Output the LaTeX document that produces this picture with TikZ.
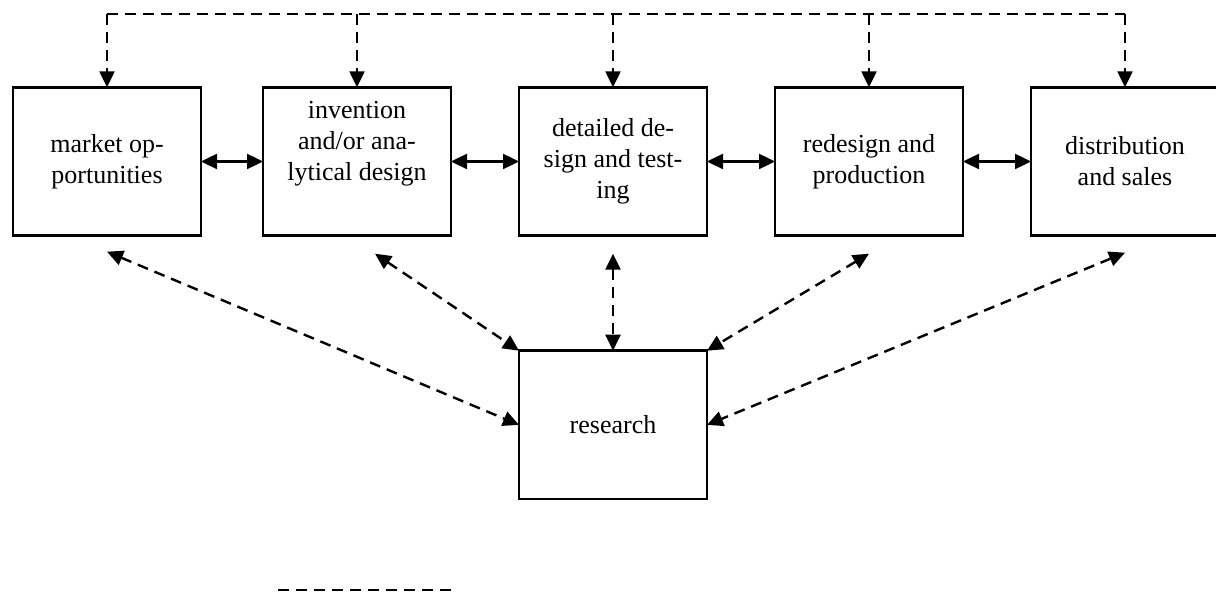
\documentclass[tikz,border=0pt]{standalone}
\usepackage{fontspec}
\setmainfont{Liberation Serif}
\usetikzlibrary{positioning,arrows.meta}
\tikzset{>={Triangle[length=8pt,width=7.5pt]}}

\begin{document}
\begin{tikzpicture}[x=0.5pt, y=-0.5pt,
stage/.style={rectangle, draw, line width=1.3pt, outer sep=0pt, minimum width=94pt, minimum height=74.2pt, align=center, inner sep=2pt, font=\fontsize{13}{15.5}\selectfont},
link/.style={<->, line width=1.2pt},
feedback/.style={line width=1.2pt, dash pattern=on 5.5pt off 3.5pt}
]
\useasboundingbox (0,0) rectangle (1216,592);

\node (market) [stage] at (107,161.5) {market op-\\portunities};
\node (invention) [stage, right=31pt of market] {invention\\and/or ana-\\lytical design\\\strut};
\node (detailed) [stage, right=34pt of invention] {detailed de-\\sign and test-\\ing};
\node (redesign) [stage, right=34pt of detailed] {redesign and\\production};
\node (sales) [stage, right=34pt of redesign] {distribution\\and sales};
\node (research) [stage, below=57.5pt of detailed] {research};

% top feedback bus
\coordinate (bus) at (0,14);
\draw [feedback] (market.north |- bus) -- (sales.north |- bus);
\foreach \n in {market,invention,detailed,redesign,sales}
  \draw [feedback, ->] (\n.north |- bus) -- (\n.north);

\draw [link] (market) -- (invention);
\draw [link] (invention) -- (detailed);
\draw [link] (detailed) -- (redesign);
\draw [link] (redesign) -- (sales);

% links to research
\coordinate [below=8pt of market] (market-r);
\coordinate [below=9pt of invention, xshift=9pt] (invention-r);
\coordinate [below=9pt of detailed] (detailed-r);
\coordinate [below=9pt of redesign] (redesign-r);
\coordinate [below=8.5pt of sales] (sales-r);
\draw [link, feedback] (market-r) -- (research.west);
\draw [link, feedback] (invention-r) -- (research.north west);
\draw [link, feedback] (detailed-r) -- (research.north);
\draw [link, feedback] (redesign-r) -- (research.north east);
\draw [link, feedback] (sales-r) -- (research.east);

\coordinate (key-a) at (278,590);
\coordinate (key-b) at (453,590);
\draw [feedback] (key-a) -- (key-b);
\end{tikzpicture}
\end{document}
